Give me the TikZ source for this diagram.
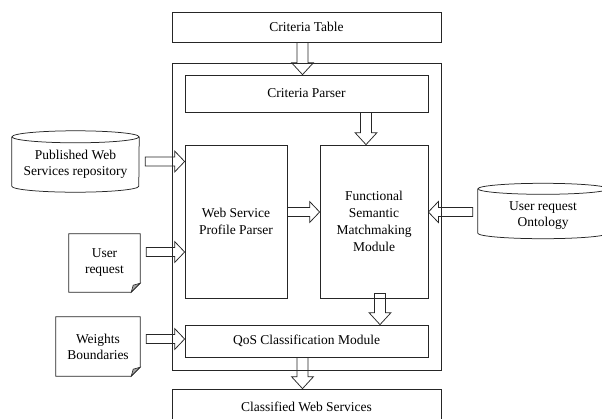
\documentclass[tikz,border=0pt]{standalone}
\usepackage{fontspec}
\setmainfont{Liberation Serif}
\usetikzlibrary{calc}
\tikzset{
  ln/.style={draw=black!85, line width=0.75pt},
  box/.style={ln, rectangle, inner sep=0pt, align=center, font=\fontsize{13.5}{16.5}\selectfont},
  ghost/.style={rectangle, inner sep=0pt, align=center, font=\fontsize{13.5}{16}\selectfont},
  blk/.style={ln, fill=none, line join=miter},
  fold/.style={ln, fill=black!35, line width=0.6pt}
}
\newcommand\varrow[2]{\draw[blk] let \p1=(#1),\p2=(#2) in
  (\x1-5.5pt,\y1) -- (\x1-5.5pt,\y2+12pt) -- (\x1-11pt,\y2+12pt) -- (\x1,\y2)
  -- (\x1+11pt,\y2+12pt) -- (\x1+5.5pt,\y2+12pt) -- (\x1+5.5pt,\y1) -- cycle;}
\newcommand\rarrow[2]{\draw[blk] let \p1=(#1),\p2=(#2) in
  (\x1,\y1+4.5pt) -- (\x2-10pt,\y1+4.5pt) -- (\x2-10pt,\y1+10.5pt) -- (\x2,\y1)
  -- (\x2-10pt,\y1-10.5pt) -- (\x2-10pt,\y1-4.5pt) -- (\x1,\y1-4.5pt) -- cycle;}
\newcommand\larrow[2]{\draw[blk] let \p1=(#1),\p2=(#2) in
  (\x1,\y1+4.5pt) -- (\x2+10pt,\y1+4.5pt) -- (\x2+10pt,\y1+10.5pt) -- (\x2,\y1)
  -- (\x2+10pt,\y1-10.5pt) -- (\x2+10pt,\y1-4.5pt) -- (\x1,\y1-4.5pt) -- cycle;}
\newcommand\cyl[3]{% name, x radius, y radius
  \draw[ln] ([yshift=-#3]#1.north west) -- ([yshift=#3]#1.south west)
    arc[start angle=180, end angle=360, x radius=#2, y radius=#3]
    -- ([yshift=-#3]#1.north east);
  \draw[ln] ([yshift=-#3]#1.north) ellipse[x radius=#2, y radius=#3];}
\newcommand\docshape[1]{%
  \draw[ln] (#1.north west) -- (#1.north east) -- ([yshift=9pt]#1.south east)
    -- ([xshift=-9pt]#1.south east) -- (#1.south west) -- cycle;
  \draw[fold] ([yshift=9pt]#1.south east) -- ([xshift=-9pt]#1.south east)
    -- ([xshift=-7pt,yshift=7pt]#1.south east) -- cycle;}
\begin{document}
\begin{tikzpicture}[x=1pt,y=-1pt]
\clip (0,0) rectangle (602,418);
\fill[white] (0,0) rectangle (602,418);
% main boxes
\node[box, minimum width=269pt, minimum height=30pt] (ct) at (306.5,27) {Criteria Table};
\node[box, minimum width=269pt, minimum height=307pt] (sys) at (306.5,216.5) {};
\node[box, minimum width=243pt, minimum height=37pt] (cp) at (306.5,93.5) {Criteria Parser};
\node[box, minimum width=102pt, minimum height=153pt] (wspp) at (236,221.5) {Web Service\\Profile Parser};
\node[box, minimum width=108pt, minimum height=153pt, font=\fontsize{13.5}{17}\selectfont] (fsm) at (374,221.5) {Functional\\Semantic\\Matchmaking\\Module};
\node[box, minimum width=243pt, minimum height=32pt] (qos) at (306.5,341) {QoS Classification Module};
\node[box, minimum width=269pt, minimum height=36pt] (cws) at (306.5,407) {Classified Web Services};
% cylinders
\node[ghost, minimum width=127pt, minimum height=61pt] (pw) at (75.5,161.5) {};
\node[ghost] (pwt) at (75.5,164) {Published Web\\Services repository};
\cyl{pw}{63.5pt}{6pt}
\node[ghost, minimum width=130pt, minimum height=55pt] (uro) at (543,211) {};
\node[ghost] (urot) at (543,216) {User request\\Ontology};
\cyl{uro}{65pt}{5.5pt}
% documents
\node[ghost, minimum width=71pt, minimum height=58pt] (ur) at (104.5,263) {User\\request};
\docshape{ur}
\node[ghost, minimum width=84pt, minimum height=59pt] (wb) at (98,346.5) {Weights\\Boundaries};
\docshape{wb}
% block arrows
\varrow{[xshift=-4pt]ct.south}{[xshift=-4pt]cp.north}
\varrow{$(fsm.north |- cp.south)+(-8,0)$}{$(fsm.north)+(-8,0)$}
\varrow{$(fsm.south)+(6,-5)$}{$(qos.north -| fsm.south)+(6,0)$}
\varrow{[xshift=-4pt]qos.south}{[xshift=-4pt]cws.north}
\rarrow{$(pw.east)+(6,0)$}{wspp.west}
\rarrow{$(ur.east)+(6,-11)$}{wspp.west}
\rarrow{$(wb.east)+(6,-7.5)$}{qos.west}
\rarrow{$(wspp.east)+(0,-9.5)$}{fsm.west}
\larrow{$(uro.west)+(-5,1)$}{fsm.east}
\end{tikzpicture}
\end{document}
